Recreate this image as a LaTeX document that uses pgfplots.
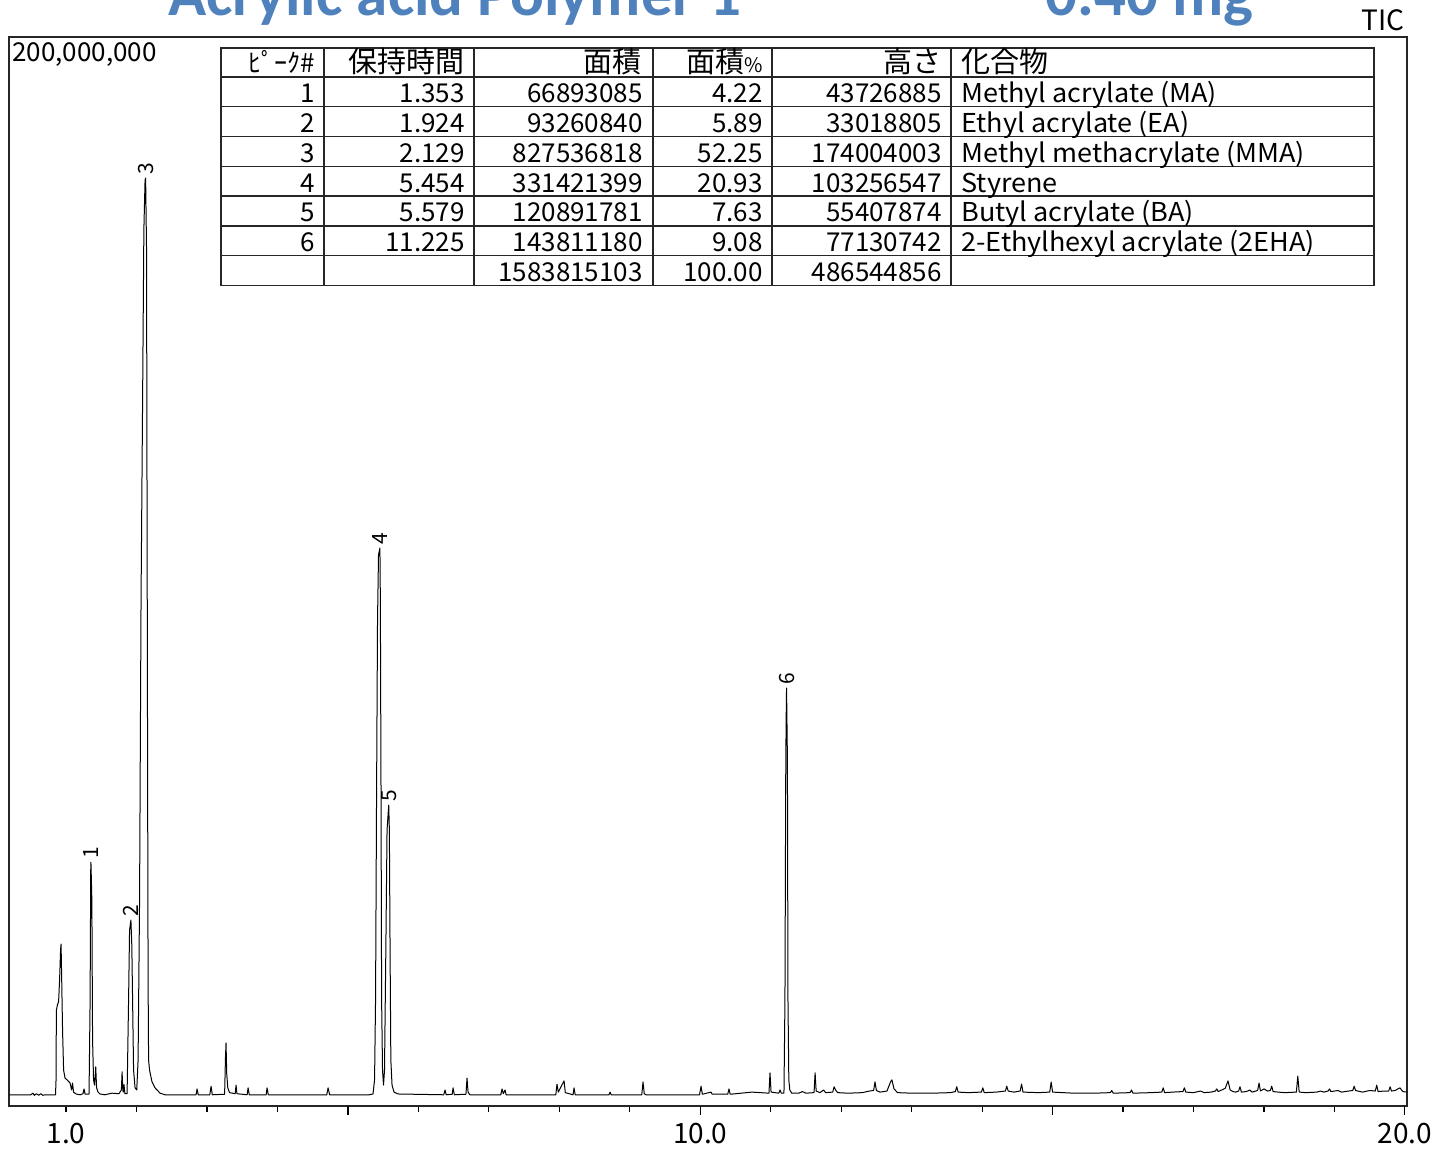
\documentclass[border=0pt]{standalone}
\usepackage{fontspec}
\setmainfont{Noto Sans CJK JP}
\newfontfamily\titlefont{Carlito}
\newfontfamily\widefont[FakeStretch=1.04]{Noto Sans CJK JP}
\usepackage{pgfplots}
\pgfplotsset{compat=1.18}
\definecolor{titleblue}{HTML}{4F81BD}
\newcommand\tabfont{\fontsize{13}{15}\selectfont}
\newcommand\hdfont{\fontsize{14.5}{15}\selectfont}
\begin{document}
\begin{tikzpicture}
\begin{axis}[
  at={(4.5pt,21pt)}, anchor=south west,
  scale only axis, width=699pt, height=534.5pt,
  xmin=0.19, xmax=20.03, ymin=0, ymax=200,
  axis line style={line width=0.8pt, black!85},
  xtick={1,...,20},
  xticklabels={1.0,,,,,,,,,10.0,,,,,,,,,,20.0},
  extra x ticks={5,10,15,20}, extra x tick labels={},
  extra x tick style={major tick length=4.5pt},
  major tick length=3pt, tick align=outside, xtick pos=bottom, ytick=\empty,
  tick style={black, line width=0.6pt},
  xticklabel style={font=\fontsize{14}{14}\selectfont, yshift=-2pt},
  /pgf/number format/assume math mode=true,
]
% intensity in millions of counts, time in min
\addplot[black, line width=0.5pt, line join=round, mark=none] coordinates {
(0.19,2.1)(0.50,2.1)(0.53,2.4)(0.55,2.0)(0.58,2.3)(0.61,2.0)(0.64,2.3)(0.67,2.0)(0.70,2.1)
(0.85,2.1)(0.858,5)(0.862,17.9)(0.877,18.9)(0.894,19.5)(0.908,23.6)(0.922,29.2)(0.929,30.3)
(0.938,23.6)(0.950,14.2)(0.965,6.7)(0.986,5.2)(1.014,4.9)(1.057,4.3)(1.078,3.0)(1.092,4.3)
(1.106,2.6)(1.142,2.25)(1.199,2.1)(1.240,2.3)(1.255,3.2)(1.270,2.2)(1.326,2.25)
(1.341,19.8)(1.350,44.2)(1.353,45.6)(1.366,38.5)(1.376,12.4)(1.390,4.9)(1.404,3.9)(1.421,7.3)
(1.433,3.4)(1.454,2.6)(1.482,2.25)(1.55,2.1)(1.65,2.4)(1.75,2.3)(1.785,3.0)(1.795,6.4)
(1.805,3.0)(1.812,2.6)(1.822,4.0)(1.835,2.3)(1.866,2.3)(1.887,19.8)(1.901,32.9)(1.920,34.8)
(1.933,30.0)(1.944,19.8)(1.958,6.7)(1.979,3.4)(2.003,3.0)(2.022,8.6)(2.043,38.5)(2.064,94.7)
(2.086,132.1)(2.104,163.9)(2.121,173.2)(2.129,173.6)(2.142,160.2)(2.149,113.4)(2.158,57.3)
(2.164,23.6)(2.171,8.6)(2.185,6.7)(2.199,5.8)(2.220,4.5)(2.263,3.4)(2.334,2.4)(2.405,2.1)
(2.80,2.1)(2.845,2.1)(2.859,3.2)(2.875,2.1)(3.04,2.1)(3.058,3.7)(3.075,2.1)
(3.25,2.2)(3.262,9.0)(3.270,11.8)(3.280,6.0)(3.295,3.4)(3.32,2.5)(3.40,2.3)(3.412,3.9)(3.425,2.3)
(3.57,2.1)(3.583,3.4)(3.60,2.1)(3.84,2.1)(3.852,3.4)(3.87,2.1)(4.70,2.1)(4.718,3.4)(4.74,2.1)
(5.30,2.1)(5.356,2.25)(5.378,4.9)(5.392,19.8)(5.406,57.3)(5.420,90.9)(5.434,103.1)(5.454,104.4)
(5.460,94.7)(5.470,57.3)(5.478,19.8)(5.491,6.7)(5.505,3.9)(5.519,6.7)(5.538,29.2)(5.555,51.6)
(5.579,56.3)(5.588,51.6)(5.598,29.2)(5.609,8.6)(5.626,3.9)(5.654,2.6)(5.711,2.25)
(6.36,2.1)(6.378,3.0)(6.395,2.1)(6.48,2.2)(6.492,3.4)(6.51,2.1)(6.675,2.2)(6.690,5.2)(6.705,2.6)(6.73,2.1)
(7.17,2.1)(7.187,3.2)(7.205,2.3)(7.229,3.0)(7.245,2.1)(7.95,2.1)(7.967,4.1)(7.985,2.6)(8.067,4.7)
(8.085,2.5)(8.195,2.1)(8.209,3.4)(8.225,2.1)(8.705,2.1)(8.720,2.6)(8.735,2.1)
(9.17,2.1)(9.188,4.5)(9.205,2.3)(9.23,2.1)(9.99,2.1)(10.011,3.7)(10.03,2.2)(10.153,2.6)(10.17,2.2)
(10.39,2.2)(10.408,3.2)(10.425,2.2)(10.735,2.6)(10.975,2.4)(10.990,6.2)(11.005,2.6)
(11.115,2.4)(11.132,3.0)(11.150,2.4)(11.188,2.4)(11.202,19.8)(11.214,64.7)(11.222,76.0)(11.225,78.2)
(11.237,64.7)(11.245,19.8)(11.257,4.9)(11.271,3.0)(11.299,2.4)
(11.40,2.4)(11.45,2.7)(11.50,2.4)(11.615,2.5)(11.63,6.2)(11.645,2.8)(11.70,2.5)(11.75,3.0)(11.78,2.5)
(11.88,2.6)(11.90,3.6)(11.92,3.0)(11.95,2.5)(12.10,2.4)(12.30,2.5)(12.40,2.8)(12.46,2.9)(12.48,4.5)
(12.50,2.9)(12.55,2.6)(12.65,2.8)(12.70,4.5)(12.72,4.9)(12.75,3.2)(12.80,2.5)(13.00,2.4)(13.30,2.4)
(13.55,2.5)(13.62,2.7)(13.64,3.6)(13.66,2.6)(13.80,2.5)(13.99,2.6)(14.01,3.4)(14.03,2.5)(14.20,2.6)
(14.33,2.8)(14.35,3.7)(14.37,2.8)(14.45,2.6)(14.54,2.8)(14.56,4.1)(14.58,2.6)(14.80,2.5)(14.96,2.6)
(14.98,4.5)(15.00,2.6)(15.30,2.4)(15.60,2.4)(15.82,2.5)(15.84,2.9)(15.86,2.4)(16.10,2.5)(16.12,3.0)
(16.14,2.4)(16.40,2.5)(16.55,2.6)(16.57,3.4)(16.59,2.5)(16.70,2.6)(16.85,2.7)(16.87,3.4)(16.89,2.6)
(17.00,2.5)(17.10,2.8)(17.15,2.5)(17.25,2.6)(17.31,2.8)(17.33,3.2)(17.35,2.7)(17.40,3.0)(17.45,3.3)
(17.49,4.7)(17.52,3.0)(17.56,2.7)(17.60,2.6)(17.64,2.8)(17.66,3.6)(17.68,2.6)(17.75,2.7)(17.80,3.0)
(17.83,2.6)(17.91,2.9)(17.93,4.3)(17.95,2.8)(18.00,3.2)(18.05,2.8)(18.09,2.9)(18.11,3.7)(18.13,2.7)
(18.20,2.6)(18.30,2.5)(18.46,2.6)(18.48,5.6)(18.50,2.6)(18.60,2.5)(18.75,2.6)(18.80,2.8)(18.85,2.6)
(18.91,2.8)(18.93,3.2)(18.95,2.7)(19.05,2.9)(19.10,2.6)(19.20,2.8)(19.26,2.9)(19.28,3.7)(19.30,2.9)
(19.40,2.6)(19.50,2.9)(19.58,2.8)(19.60,3.9)(19.62,2.7)(19.70,2.8)(19.77,2.8)(19.79,3.6)(19.81,2.8)
(19.86,2.9)(19.93,3.4)(19.97,2.7)(20.03,2.6)
};
\foreach \t/\v/\n in {1.353/45.6/1, 1.920/34.8/2, 2.129/173.6/3, 5.454/104.4/4, 5.579/56.3/5, 11.225/78.2/6}{
  \edef\tmp{\noexpand\node[rotate=90,anchor=west,inner sep=1.5pt,font=\noexpand\fontsize{10.5}{10.5}\noexpand\selectfont] at (axis cs:\t,\v) {\n};}\tmp
}
\end{axis}
% pixel-frame annotations
\begin{scope}[x=0.5pt,y=-0.5pt,shift={(0pt,574pt)}]
  \node[anchor=base west,inner sep=0,text=titleblue,font=\titlefont\bfseries\fontsize{31.5}{32}\selectfont] at (168,16) {Acrylic acid Polymer 1};
  \node[anchor=base west,inner sep=0,text=titleblue,font=\titlefont\bfseries\fontsize{31.5}{32}\selectfont] at (1045,16) {0.40 mg};
  \node[anchor=base east,inner sep=0,font=\fontsize{14}{14}\selectfont] at (1405,31) {TIC};
  \node[anchor=base west,inner sep=0,font=\tabfont] at (12,62) {200,000,000};
  % table grid
  \draw[line width=0.7pt,black!85] (221,48) rectangle (1374,285.6);
  \foreach \yy in {77,106.8,136.6,166.4,196.2,226,255.8}{\draw[line width=0.7pt,black!85] (221,\yy) -- (1374,\yy);}
  \foreach \xx in {324,474,653,772,951}{\draw[line width=0.7pt,black!85] (\xx,48) -- (\xx,285.6);}
  % header
  \node[anchor=base east,inner sep=0,font=\tabfont] at (315,73) {ﾋﾟｰｸ\#};
  \node[anchor=base east,inner sep=0,font=\hdfont] at (465,73) {保持時間};
  \node[anchor=base east,inner sep=0,font=\hdfont] at (642,73) {面積};
  \node[anchor=base east,inner sep=0,font=\hdfont] at (763,73) {面積{\fontsize{10}{10}\selectfont\%}};
  \node[anchor=base east,inner sep=0,font=\hdfont] at (942,73) {高さ};
  \node[anchor=base west,inner sep=0,font=\hdfont] at (961,73) {化合物};
  \foreach \yb/\a/\b/\c/\d/\e/\f in {
    102.8/1/1.353/66893085/4.22/43726885/Methyl acrylate (MA),
    132.6/2/1.924/93260840/5.89/33018805/Ethyl acrylate (EA),
    162.4/3/2.129/827536818/52.25/174004003/Methyl methacrylate (MMA),
    192.2/4/5.454/331421399/20.93/103256547/Styrene,
    222/5/5.579/120891781/7.63/55407874/Butyl acrylate (BA),
    251.8/6/11.225/143811180/9.08/77130742/2-Ethylhexyl acrylate (2EHA),
    281.6/{}/{}/1583815103/100.00/486544856/{}}{
    \node[anchor=base east,inner sep=0,font=\tabfont] at (315,\yb) {\a};
    \node[anchor=base east,inner sep=0,font=\tabfont] at (465,\yb) {\b};
    \node[anchor=base east,inner sep=0,font=\tabfont] at (643,\yb) {\c};
    \node[anchor=base east,inner sep=0,font=\tabfont] at (763,\yb) {\d};
    \node[anchor=base east,inner sep=0,font=\tabfont] at (942,\yb) {\e};
    \node[anchor=base west,inner sep=0,font=\widefont\tabfont] at (961,\yb) {\f};
  }
\end{scope}
\pgfresetboundingbox
\useasboundingbox (0,0) rectangle (717.5pt,574pt);
\end{tikzpicture}
\end{document}
